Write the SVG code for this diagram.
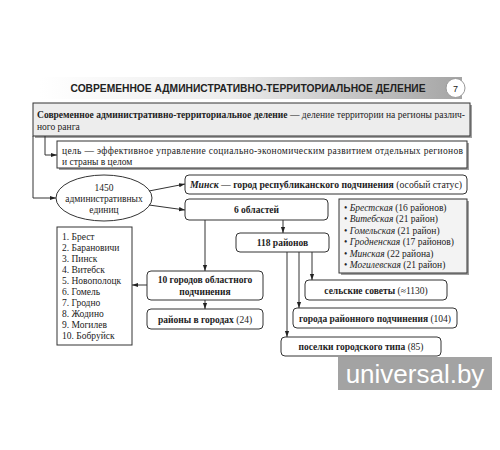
<svg xmlns="http://www.w3.org/2000/svg" width="500" height="450" viewBox="0 0 500 450">
<defs>
<linearGradient id="hdr" x1="0" x2="1" y1="0" y2="0">
<stop offset="0" stop-color="#ffffff"/>
<stop offset="0.45" stop-color="#ececec"/>
<stop offset="1" stop-color="#a4a4a4"/>
</linearGradient>
<marker id="arr" viewBox="0 0 10 10" refX="10" refY="5" markerWidth="6" markerHeight="6" orient="auto" markerUnits="userSpaceOnUse">
<path d="M0,1.5 L10,5 L0,8.5 z" fill="#222"/>
</marker>
</defs>
<style>
text{font-family:'Liberation Serif','DejaVu Serif','Times New Roman',serif}
.t{font-size:9.5px;fill:#222}
.b{font-weight:bold}
.i{font-style:italic}
.box{fill:#fff;stroke:#333;stroke-width:1}
.gbox{fill:#ededed;stroke:#333;stroke-width:1}
.sh{fill:#a0a0a0}
.c{fill:none;stroke:#333;stroke-width:1}
.sans{font-family:'Liberation Sans','DejaVu Sans',sans-serif}
</style>
<rect width="500" height="450" fill="#fff"/>

<g id="header">
<rect x="40" y="77" width="422" height="22" fill="url(#hdr)"/>
<text class="sans" x="248" y="92" text-anchor="middle" textLength="355" lengthAdjust="spacingAndGlyphs" font-weight="bold" font-size="10" fill="#222">СОВРЕМЕННОЕ АДМИНИСТРАТИВНО-ТЕРРИТОРИАЛЬНОЕ ДЕЛЕНИЕ</text>
<circle cx="455.5" cy="88" r="9.5" fill="#fff" stroke="#999" stroke-width="1"/>
<text class="sans" x="455.5" y="91.5" text-anchor="middle" font-size="9" fill="#222">7</text>
</g>

<g id="definition" font-family="Liberation Serif, DejaVu Serif, serif">
<rect class="sh" x="35" y="105" width="437" height="33"/>
<rect class="gbox" x="33" y="103" width="437" height="33"/>
<text class="t" x="37" y="117.5" textLength="428" lengthAdjust="spacingAndGlyphs"><tspan class="b">Современное административно-территориальное деление</tspan> — деление территории на регионы различ-</text>
<text class="t" x="37" y="130">ного ранга</text>
</g>

<g id="goal">
<rect class="sh" x="59" y="143" width="410" height="27"/>
<rect class="box" x="57" y="141" width="410" height="27"/>
<text class="t" x="62" y="153.5" textLength="401" lengthAdjust="spacing">цель — эффективное управление социально-экономическим развитием отдельных регионов</text>
<text class="t" x="62" y="164.5">и страны в целом</text>
</g>

<g id="units">
<ellipse cx="104" cy="198" rx="48" ry="23" fill="#fff" stroke="#333" stroke-width="1"/>
<text class="t" x="104" y="190.5" text-anchor="middle" font-size="10">1450</text>
<text class="t" x="104" y="201.5" text-anchor="middle" font-size="10">административных</text>
<text class="t" x="104" y="212.5" text-anchor="middle" font-size="10">единиц</text>
</g>

<g id="minsk">
<rect class="box" x="185" y="175" width="282" height="19" rx="4"/>
<text class="t" x="326" y="187.5" text-anchor="middle" textLength="272" lengthAdjust="spacingAndGlyphs"><tspan class="b i">Минск</tspan><tspan class="b"> — город республиканского подчинения</tspan> (особый статус)</text>
</g>

<g id="regions6">
<rect class="box" x="185" y="199" width="143" height="21" rx="4"/>
<text class="t b" x="256.5" y="213" text-anchor="middle">6 областей</text>
</g>

<g id="regionlist">
<rect class="sh" x="341" y="201" width="128" height="74"/>
<rect class="gbox" x="339" y="199" width="128" height="74" style="fill:#f3f3f3"/>
<text class="t" x="344" y="210.5">• <tspan class="i">Брестская</tspan> (16 районов)</text>
<text class="t" x="344" y="222">• <tspan class="i">Витебская</tspan> (21 район)</text>
<text class="t" x="344" y="233.5">• <tspan class="i">Гомельская</tspan> (21 район)</text>
<text class="t" x="344" y="245">• <tspan class="i">Гродненская</tspan> (17 районов)</text>
<text class="t" x="344" y="256.5">• <tspan class="i">Минская</tspan> (22 района)</text>
<text class="t" x="344" y="268">• <tspan class="i">Могилевская</tspan> (21 район)</text>
</g>

<g id="districts">
<rect class="box" x="236" y="233" width="93" height="19" rx="4"/>
<text class="t b" x="282.5" y="245.5" text-anchor="middle">118 районов</text>
</g>

<g id="cities10">
<rect class="box" x="147" y="271" width="116" height="29" rx="4"/>
<text class="t b" x="205" y="283" text-anchor="middle">10 городов областного</text>
<text class="t b" x="205" y="294.5" text-anchor="middle">подчинения</text>
</g>

<g id="citylist">
<rect class="box" x="57" y="227" width="75" height="118"/>
<text class="t" x="62" y="240" font-size="10">1. Брест</text>
<text class="t" x="62" y="251" font-size="10">2. Барановичи</text>
<text class="t" x="62" y="262" font-size="10">3. Пинск</text>
<text class="t" x="62" y="273" font-size="10">4. Витебск</text>
<text class="t" x="62" y="284" font-size="10">5. Новополоцк</text>
<text class="t" x="62" y="295" font-size="10">6. Гомель</text>
<text class="t" x="62" y="306" font-size="10">7. Гродно</text>
<text class="t" x="62" y="317" font-size="10">8. Жодино</text>
<text class="t" x="62" y="328" font-size="10">9. Могилев</text>
<text class="t" x="62" y="339" font-size="10">10. Бобруйск</text>
</g>

<g id="cityraions">
<rect class="box" x="147" y="309" width="116" height="20" rx="4"/>
<text class="t" x="205" y="322.5" text-anchor="middle"><tspan class="b">районы в городах</tspan> (24)</text>
</g>

<g id="villages">
<rect class="box" x="305" y="280" width="142" height="20" rx="4"/>
<text class="t" x="376" y="293.5" text-anchor="middle"><tspan class="b">сельские советы</tspan> (≈1130)</text>
</g>

<g id="towns">
<rect class="box" x="293" y="308" width="164" height="20" rx="4"/>
<text class="t" x="375" y="321.5" text-anchor="middle"><tspan class="b">города районного подчинения</tspan> (104)</text>
</g>

<g id="settlements">
<rect class="box" x="281" y="337" width="160" height="19" rx="4"/>
<text class="t" x="361" y="349.5" text-anchor="middle"><tspan class="b">поселки городского типа</tspan> (85)</text>
</g>

<g id="connectors">
<path class="c" d="M45,136 V155 H57" marker-end="url(#arr)"/>
<path class="c" d="M33,136 V198 H56" marker-end="url(#arr)"/>
<path class="c" d="M149,191 L185,184" marker-end="url(#arr)"/>
<path class="c" d="M149,205 L185,210" marker-end="url(#arr)"/>
<path class="c" d="M205,220 V271" marker-end="url(#arr)"/>
<path class="c" d="M283,220 V233" marker-end="url(#arr)"/>
<path class="c" d="M205,300 V309" marker-end="url(#arr)"/>
<path class="c" d="M147,285 H132" marker-end="url(#arr)"/>
<path class="c" d="M312,252 V280" marker-end="url(#arr)"/>
<path class="c" d="M299,252 V308" marker-end="url(#arr)"/>
<path class="c" d="M287,252 V337" marker-end="url(#arr)"/>
</g>

<g id="watermark">
<rect x="338" y="357" width="154" height="33" fill="#a3a3a3"/>
<text class="sans" x="415" y="383" text-anchor="middle" font-size="26" fill="#fff">universal.by</text>
</g>
</svg>
